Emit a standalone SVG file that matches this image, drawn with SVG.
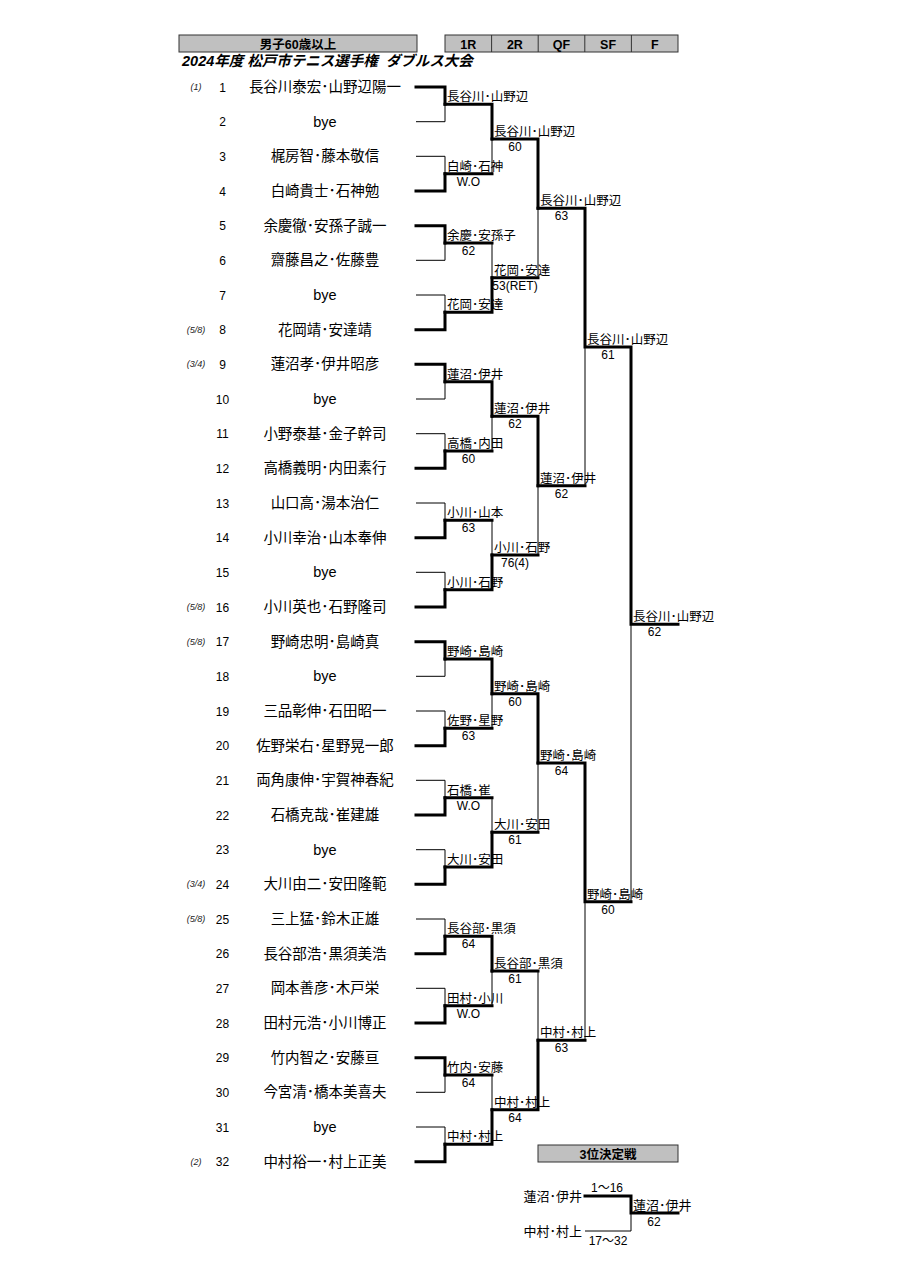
<svg xmlns="http://www.w3.org/2000/svg" width="905" height="1280" viewBox="0 0 905 1280">
<style>
text{font-family:"Liberation Sans","Noto Sans CJK JP",sans-serif;fill:#000}
.hb{fill:#c0c0c0;stroke:#333;stroke-width:1}
.hd{stroke:#333;stroke-width:1}
.ht{font-size:12.5px;font-weight:bold;text-anchor:middle}
.ti{font-size:14.5px;font-weight:bold;font-style:italic}
.sd{font-size:9px;font-style:italic;text-anchor:middle;fill:#222}
.no{font-size:12px;text-anchor:middle}
.nm{font-size:14.5px;text-anchor:middle}
.lb{font-size:12.5px}
.sc{font-size:12px;text-anchor:middle}
.tp{font-size:13px}
.tk{stroke:#000;stroke-width:3;fill:none;stroke-linecap:square}
.tn{stroke:#000;stroke-width:1;fill:none}
</style>
<g id="header">
<rect class="hb" x="179" y="35" width="238" height="17"/>
<text class="ht" x="298" y="48.5">男子60歳以上</text>
<rect class="hb" x="445" y="35" width="233" height="17"/>
<path class="hd" d="M491.6 35V52M538.2 35V52M584.8 35V52M631.4 35V52"/>
<text class="ht" x="468.3" y="48.5">1R</text>
<text class="ht" x="514.9" y="48.5">2R</text>
<text class="ht" x="561.5" y="48.5">QF</text>
<text class="ht" x="608.1" y="48.5">SF</text>
<text class="ht" x="654.7" y="48.5">F</text>
<text class="ti" x="182" y="66" xml:space="preserve">2024年度 松戸市テニス選手権  ダブルス大会</text>
</g>
<g id="connectors">
<path class="tn" d="M416 121.7H445V104.3M416 156.3H445V173.7M416 260.3H445V243M416 295H445V312.3M416 399H445V381.7M416 433.7H445V451M416 503H445V520.3M416 572.3H445V589.7M416 676.3H445V659M416 711H445V728.3M416 780.3H445V797.7M416 849.7H445V867M416 919H445V936.3M416 988.3H445V1005.7M416 1092.3H445V1075M416 1127H445V1144.3"/>
<path class="tn" d="M492 139V173.7M492 243V277.7M492 416.3V451M492 520.3V555M492 693.7V728.3M492 797.7V832.3M492 971V1005.7M492 1075V1109.7"/>
<path class="tn" d="M538 208.3V277.7M538 485.7V555M538 763V832.3M538 971V1040.3M585 347V485.7M585 901.7V1040.3M631 624.3V901.7"/>
<path class="tk" d="M416 87H445V104.3M416 191H445V173.7M416 225.7H445V243M416 329.7H445V312.3M416 364.3H445V381.7M416 468.3H445V451M416 537.7H445V520.3M416 607H445V589.7M416 641.7H445V659M416 745.7H445V728.3M416 815H445V797.7M416 884.3H445V867M416 953.7H445V936.3M416 1023H445V1005.7M416 1057.7H445V1075M416 1161.7H445V1144.3"/>
<path class="tk" d="M445 104.3H492V139M445 173.7H492M445 243H492M445 312.3H492V277.7M445 381.7H492V416.3M445 451H492M445 520.3H492M445 589.7H492V555M445 659H492V693.7M445 728.3H492M445 797.7H492M445 867H492V832.3M445 936.3H492V971M445 1005.7H492M445 1075H492M445 1144.3H492V1109.7"/>
<path class="tk" d="M492 139H538V208.3M492 277.7H538M492 416.3H538V485.7M492 555H538M492 693.7H538V763M492 832.3H538M492 971H538M492 1109.7H538V1040.3"/>
<path class="tk" d="M538 208.3H585V347M538 485.7H585M538 763H585V901.7M538 1040.3H585M585 347H631V624.3M585 901.7H631M631 624.3H678"/>
</g>
<g id="players">
<g id="p1"><text class="sd" x="196" y="90">(1)</text><text class="no" x="222.5" y="91.5">1</text><text class="nm" x="325" y="92">長谷川泰宏･山野辺陽一</text></g>
<g id="p2"><text class="no" x="222.5" y="126.2">2</text><text class="nm" x="325" y="126.7">bye</text></g>
<g id="p3"><text class="no" x="222.5" y="160.8">3</text><text class="nm" x="325" y="161.3">梶房智･藤本敬信</text></g>
<g id="p4"><text class="no" x="222.5" y="195.5">4</text><text class="nm" x="325" y="196">白崎貴士･石神勉</text></g>
<g id="p5"><text class="no" x="222.5" y="230.2">5</text><text class="nm" x="325" y="230.7">余慶徹･安孫子誠一</text></g>
<g id="p6"><text class="no" x="222.5" y="264.8">6</text><text class="nm" x="325" y="265.3">齋藤昌之･佐藤豊</text></g>
<g id="p7"><text class="no" x="222.5" y="299.5">7</text><text class="nm" x="325" y="300">bye</text></g>
<g id="p8"><text class="sd" x="196" y="332.7">(5/8)</text><text class="no" x="222.5" y="334.2">8</text><text class="nm" x="325" y="334.7">花岡靖･安達靖</text></g>
<g id="p9"><text class="sd" x="196" y="367.3">(3/4)</text><text class="no" x="222.5" y="368.8">9</text><text class="nm" x="325" y="369.3">蓮沼孝･伊井昭彦</text></g>
<g id="p10"><text class="no" x="222.5" y="403.5">10</text><text class="nm" x="325" y="404">bye</text></g>
<g id="p11"><text class="no" x="222.5" y="438.2">11</text><text class="nm" x="325" y="438.7">小野泰基･金子幹司</text></g>
<g id="p12"><text class="no" x="222.5" y="472.8">12</text><text class="nm" x="325" y="473.3">高橋義明･内田素行</text></g>
<g id="p13"><text class="no" x="222.5" y="507.5">13</text><text class="nm" x="325" y="508">山口高･湯本治仁</text></g>
<g id="p14"><text class="no" x="222.5" y="542.2">14</text><text class="nm" x="325" y="542.7">小川幸治･山本奉伸</text></g>
<g id="p15"><text class="no" x="222.5" y="576.8">15</text><text class="nm" x="325" y="577.3">bye</text></g>
<g id="p16"><text class="sd" x="196" y="610">(5/8)</text><text class="no" x="222.5" y="611.5">16</text><text class="nm" x="325" y="612">小川英也･石野隆司</text></g>
<g id="p17"><text class="sd" x="196" y="644.7">(5/8)</text><text class="no" x="222.5" y="646.2">17</text><text class="nm" x="325" y="646.7">野崎忠明･島崎真</text></g>
<g id="p18"><text class="no" x="222.5" y="680.8">18</text><text class="nm" x="325" y="681.3">bye</text></g>
<g id="p19"><text class="no" x="222.5" y="715.5">19</text><text class="nm" x="325" y="716">三品彰伸･石田昭一</text></g>
<g id="p20"><text class="no" x="222.5" y="750.2">20</text><text class="nm" x="325" y="750.7">佐野栄右･星野晃一郎</text></g>
<g id="p21"><text class="no" x="222.5" y="784.8">21</text><text class="nm" x="325" y="785.3">両角康伸･宇賀神春紀</text></g>
<g id="p22"><text class="no" x="222.5" y="819.5">22</text><text class="nm" x="325" y="820">石橋克哉･崔建雄</text></g>
<g id="p23"><text class="no" x="222.5" y="854.2">23</text><text class="nm" x="325" y="854.7">bye</text></g>
<g id="p24"><text class="sd" x="196" y="887.3">(3/4)</text><text class="no" x="222.5" y="888.8">24</text><text class="nm" x="325" y="889.3">大川由二･安田隆範</text></g>
<g id="p25"><text class="sd" x="196" y="922">(5/8)</text><text class="no" x="222.5" y="923.5">25</text><text class="nm" x="325" y="924">三上猛･鈴木正雄</text></g>
<g id="p26"><text class="no" x="222.5" y="958.2">26</text><text class="nm" x="325" y="958.7">長谷部浩･黒須美浩</text></g>
<g id="p27"><text class="no" x="222.5" y="992.8">27</text><text class="nm" x="325" y="993.3">岡本善彦･木戸栄</text></g>
<g id="p28"><text class="no" x="222.5" y="1027.5">28</text><text class="nm" x="325" y="1028">田村元浩･小川博正</text></g>
<g id="p29"><text class="no" x="222.5" y="1062.2">29</text><text class="nm" x="325" y="1062.7">竹内智之･安藤亘</text></g>
<g id="p30"><text class="no" x="222.5" y="1096.8">30</text><text class="nm" x="325" y="1097.3">今宮清･橋本美喜夫</text></g>
<g id="p31"><text class="no" x="222.5" y="1131.5">31</text><text class="nm" x="325" y="1132">bye</text></g>
<g id="p32"><text class="sd" x="196" y="1164.7">(2)</text><text class="no" x="222.5" y="1166.2">32</text><text class="nm" x="325" y="1166.7">中村裕一･村上正美</text></g>
</g>
<g id="round1">
<g id="r1-1"><text class="lb" x="447" y="101.3">長谷川･山野辺</text></g>
<g id="r1-2"><text class="lb" x="447" y="170.7">白崎･石神</text><text class="sc" x="468.5" y="185.7">W.O</text></g>
<g id="r1-3"><text class="lb" x="447" y="240">余慶･安孫子</text><text class="sc" x="468.5" y="255">62</text></g>
<g id="r1-4"><text class="lb" x="447" y="309.3">花岡･安達</text></g>
<g id="r1-5"><text class="lb" x="447" y="378.7">蓮沼･伊井</text></g>
<g id="r1-6"><text class="lb" x="447" y="448">高橋･内田</text><text class="sc" x="468.5" y="463">60</text></g>
<g id="r1-7"><text class="lb" x="447" y="517.3">小川･山本</text><text class="sc" x="468.5" y="532.3">63</text></g>
<g id="r1-8"><text class="lb" x="447" y="586.7">小川･石野</text></g>
<g id="r1-9"><text class="lb" x="447" y="656">野崎･島崎</text></g>
<g id="r1-10"><text class="lb" x="447" y="725.3">佐野･星野</text><text class="sc" x="468.5" y="740.3">63</text></g>
<g id="r1-11"><text class="lb" x="447" y="794.7">石橋･崔</text><text class="sc" x="468.5" y="809.7">W.O</text></g>
<g id="r1-12"><text class="lb" x="447" y="864">大川･安田</text></g>
<g id="r1-13"><text class="lb" x="447" y="933.3">長谷部･黒須</text><text class="sc" x="468.5" y="948.3">64</text></g>
<g id="r1-14"><text class="lb" x="447" y="1002.7">田村･小川</text><text class="sc" x="468.5" y="1017.7">W.O</text></g>
<g id="r1-15"><text class="lb" x="447" y="1072">竹内･安藤</text><text class="sc" x="468.5" y="1087">64</text></g>
<g id="r1-16"><text class="lb" x="447" y="1141.3">中村･村上</text></g>
</g>
<g id="round2">
<g id="r2-1"><text class="lb" x="494" y="136">長谷川･山野辺</text><text class="sc" x="515" y="151">60</text></g>
<g id="r2-2"><text class="lb" x="494" y="274.7">花岡･安達</text><text class="sc" x="515" y="289.7">53(RET)</text></g>
<g id="r2-3"><text class="lb" x="494" y="413.3">蓮沼･伊井</text><text class="sc" x="515" y="428.3">62</text></g>
<g id="r2-4"><text class="lb" x="494" y="552">小川･石野</text><text class="sc" x="515" y="567">76(4)</text></g>
<g id="r2-5"><text class="lb" x="494" y="690.7">野崎･島崎</text><text class="sc" x="515" y="705.7">60</text></g>
<g id="r2-6"><text class="lb" x="494" y="829.3">大川･安田</text><text class="sc" x="515" y="844.3">61</text></g>
<g id="r2-7"><text class="lb" x="494" y="968">長谷部･黒須</text><text class="sc" x="515" y="983">61</text></g>
<g id="r2-8"><text class="lb" x="494" y="1106.7">中村･村上</text><text class="sc" x="515" y="1121.7">64</text></g>
</g>
<g id="quarterfinal">
<g id="qf-1"><text class="lb" x="540" y="205.3">長谷川･山野辺</text><text class="sc" x="561.5" y="220.3">63</text></g>
<g id="qf-2"><text class="lb" x="540" y="482.7">蓮沼･伊井</text><text class="sc" x="561.5" y="497.7">62</text></g>
<g id="qf-3"><text class="lb" x="540" y="760">野崎･島崎</text><text class="sc" x="561.5" y="775">64</text></g>
<g id="qf-4"><text class="lb" x="540" y="1037.3">中村･村上</text><text class="sc" x="561.5" y="1052.3">63</text></g>
</g>
<g id="semifinal">
<g id="sf-1"><text class="lb" x="587" y="344">長谷川･山野辺</text><text class="sc" x="608" y="359">61</text></g>
<g id="sf-2"><text class="lb" x="587" y="898.7">野崎･島崎</text><text class="sc" x="608" y="913.7">60</text></g>
</g>
<g id="final">
<text class="lb" x="633" y="621.3">長谷川･山野辺</text><text class="sc" x="654.5" y="636.3">62</text>
</g>
<g id="third-place">
<rect class="hb" x="538" y="1145" width="140" height="17"/>
<text class="ht" x="608" y="1158.5">3位決定戦</text>
<path class="tn" d="M585 1231H631V1213"/>
<path class="tk" d="M585 1196H631V1213H678"/>
<text class="tp" x="582" y="1200.5" text-anchor="end">蓮沼･伊井</text>
<text class="tp" x="582" y="1236" text-anchor="end">中村･村上</text>
<text class="sc" x="607" y="1191.5">1〜16</text>
<text class="sc" x="608" y="1245">17〜32</text>
<text class="tp" x="633" y="1209.5">蓮沼･伊井</text>
<text class="sc" x="654" y="1226">62</text>
</g>
</svg>
